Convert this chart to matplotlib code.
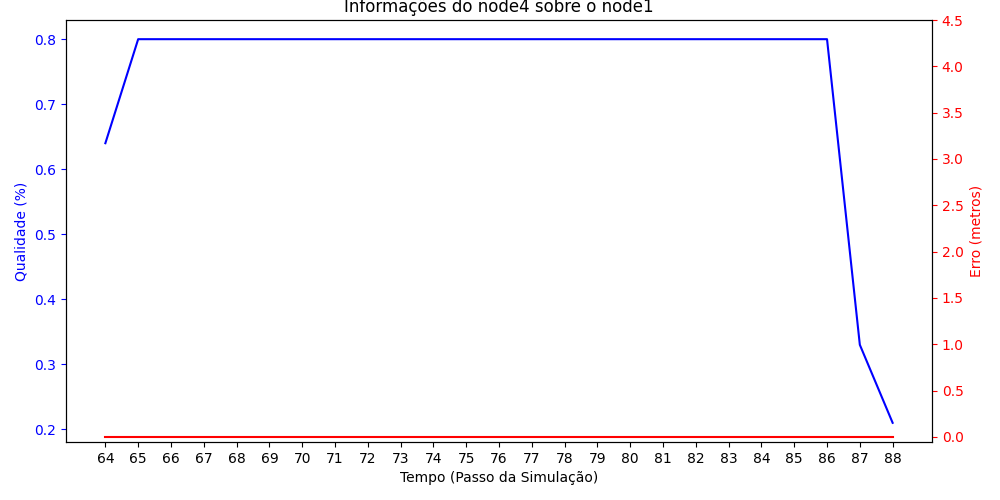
import matplotlib
matplotlib.use("Agg")
import matplotlib.pyplot as plt

steps = list(range(64, 89))
quality = [0.64] + [0.8] * 22 + [0.33, 0.21]
error = [0.0] * 25

fig, ax = plt.subplots(figsize=(10, 5), dpi=100)
fig.subplots_adjust(left=0.066, right=0.932, top=0.96, bottom=0.116)

ax.plot(steps, quality, color="blue", linewidth=1.5)
ax.set_xticks(steps)
ax.set_xlabel("Tempo (Passo da Simulação)")
ax.set_ylabel("Qualidade (%)", color="blue")
ax.tick_params(axis="y", colors="blue")
ax.set_title("Informações do node4 sobre o node1")

ax2 = ax.twinx()
ax2.plot(steps, error, color="red", linewidth=1.5)
ax2.set_ylim(-0.055, 4.5)
ax2.set_yticks([0.0, 0.5, 1.0, 1.5, 2.0, 2.5, 3.0, 3.5, 4.0, 4.5])
ax2.set_ylabel("Erro (metros)", color="red")
ax2.tick_params(axis="y", colors="red")

fig.savefig("out.png", dpi=100)
